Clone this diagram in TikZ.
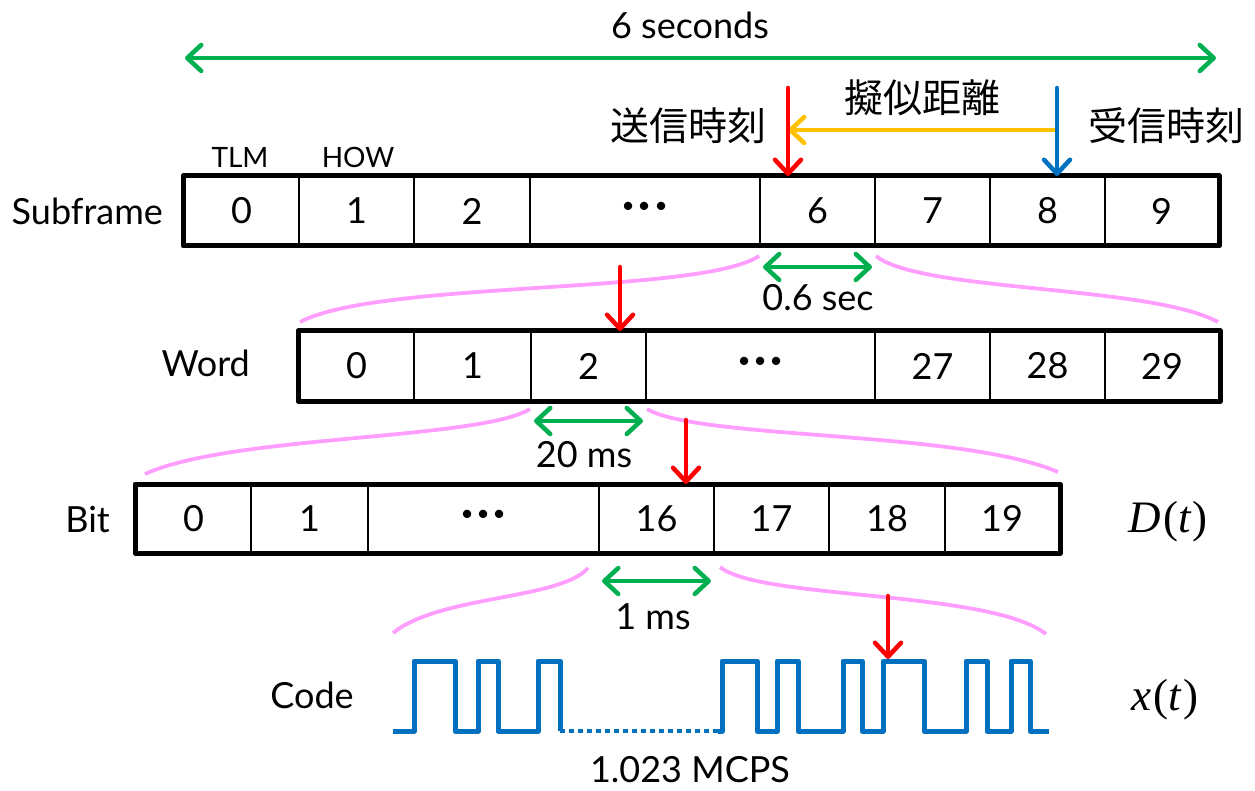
\documentclass[tikz,border=0pt]{standalone}
\usepackage{fontspec}
\setmainfont{Lato}
\newfontfamily\jp{Noto Sans CJK JP}
\newfontfamily\serifm{Liberation Serif}
\usetikzlibrary{arrows.meta}
\definecolor{ggreen}{HTML}{00B050}
\definecolor{rred}{HTML}{FF0000}
\definecolor{bblue}{HTML}{0070C0}
\definecolor{oorange}{HTML}{FFC000}
\definecolor{ppink}{HTML}{FF9EFF}
\newcommand{\mydots}{{\fontsize{44}{48}\selectfont\textbf{·\hspace{4pt}·\hspace{4pt}·}}}
\newcommand{\fn}[1]{{\serifm\itshape #1}\hspace{2pt}{\serifm(}{\serifm\itshape t}\hspace{2pt}{\serifm)}}
\begin{document}
\begin{tikzpicture}[x=1pt,y=-1pt,
  txt/.style={font=\fontsize{36}{40}\selectfont, inner sep=0pt},
  small/.style={font=\fontsize{28}{32}\selectfont, inner sep=0pt},
  jtxt/.style={font=\jp\fontsize{39}{44}\selectfont, inner sep=0pt},
  mth/.style={font=\fontsize{45}{50}\selectfont, inner sep=0pt},
  cell/.style={draw, line width=2pt, minimum height=68pt, inner sep=0pt, anchor=west, font=\fontsize{36}{40}\selectfont},
  frame/.style={line width=5pt, line join=round},
  barb/.style={line width=4.5pt, line cap=round},
  hd/.tip={Straight Barb[length=14pt,width=26pt,line cap=round,line join=round]},
  garrow/.style={barb, draw=ggreen, {hd}-{hd}},
  rarrow/.style={barb, draw=rred, -{hd}},
  bluearrow/.style={barb, draw=bblue, -{hd}},
  oarrow/.style={barb, draw=oorange, -{hd}},
  brace/.style={draw=ppink, line width=3.8pt},
  wave/.style={draw=bblue, line width=5pt, line join=round}
]
\useasboundingbox (0,0) rectangle (1255,791);

% top span
\coordinate (tl) at (185,58);
\coordinate (tr) at (1216,58);
\draw[garrow] (tl) -- (tr);
\node[txt] (six) at (690,25) {6 seconds};

% Subframe row
\node[cell, minimum width=115pt] (s0) at (183,211) {0};
\node[cell, minimum width=115pt] (s1) at (298,211) {1};
\node[cell, minimum width=116pt] (s2) at (413,211) {2};
\node[cell, minimum width=230pt] (sd) at (529,211) {\mydots};
\node[cell, minimum width=115pt] (s6) at (759,211) {6};
\node[cell, minimum width=115pt] (s7) at (874,211) {7};
\node[cell, minimum width=115pt] (s8) at (989,211) {8};
\node[cell, minimum width=113pt] (s9) at (1104,211) {9};
\draw[frame] (s0.north west) rectangle (s9.south east);
\node[txt, anchor=east] (lsub) at (163,211) {Subframe};
\node[small] (tlm) at (240,157) {TLM};
\node[small] (how) at (358,157) {HOW};

% transmit / receive
\coordinate (r1) at (788,88);
\coordinate (bl1) at (1057,88);
\coordinate (o1) at (1057,130);
\draw[oarrow] (o1) -- (o1 -| r1);
\draw[rarrow] (r1) -- (r1 |- s6.north);
\draw[bluearrow] (bl1) -- (bl1 |- s8.north);
\node[jtxt] (send) at (688,126) {送信時刻};
\node[jtxt] (recv) at (1166,126) {受信時刻};
\node[jtxt] (pseudo) at (922,98) {擬似距離};

% Subframe -> Word
\draw[brace] ([yshift=-10pt]s6.south west) .. controls (700,295) and (380,280) .. (300,322);
\draw[brace] ([yshift=-10pt]s6.south east) .. controls (920,292) and (1150,285) .. (1218,322);
\draw[garrow] ([xshift=4pt,yshift=-21pt]s6.south west) -- ([xshift=-4pt,yshift=-21pt]s6.south east);
\node[txt] (l06) at (818,298) {0.6 sec};

% Word row
\node[cell, minimum width=115pt] (w0) at (298,366) {0};
\node[cell, minimum width=117pt] (w1) at (413,366) {1};
\node[cell, minimum width=115pt] (w2) at (530,366) {2};
\node[cell, minimum width=229pt] (wd) at (645,366) {\mydots};
\node[cell, minimum width=115pt] (w27) at (874,366) {27};
\node[cell, minimum width=115pt] (w28) at (989,366) {28};
\node[cell, minimum width=114pt] (w29) at (1104,366) {29};
\draw[frame] (w0.north west) rectangle (w29.south east);
\node[txt, anchor=east] (lword) at (250,363) {Word};
\coordinate (r2) at (620,267);
\draw[rarrow] (r2) -- (r2 |- w2.north);

% Word -> Bit
\draw[brace] ([yshift=-8pt]w2.south west) .. controls (480,440) and (230,435) .. (145,474);
\draw[brace] ([yshift=-8pt]w2.south east) .. controls (700,440) and (960,430) .. (1058,472);
\draw[garrow] ([xshift=4pt,yshift=-20pt]w2.south west) -- ([xshift=-4pt,yshift=-20pt]w2.south east);
\node[txt] (l20) at (584,455) {20 ms};
\coordinate (r3) at (686,420);

% Bit row
\node[cell, minimum width=115pt, minimum height=67pt] (b0) at (135,518.5) {0};
\node[cell, minimum width=117pt, minimum height=67pt] (b1) at (250,518.5) {1};
\node[cell, minimum width=231pt, minimum height=67pt] (bd) at (367,518.5) {\mydots};
\node[cell, minimum width=115pt, minimum height=67pt] (b16) at (598,518.5) {16};
\node[cell, minimum width=115pt, minimum height=67pt] (b17) at (713,518.5) {17};
\node[cell, minimum width=116pt, minimum height=67pt] (b18) at (828,518.5) {18};
\node[cell, minimum width=114pt, minimum height=67pt] (b19) at (944,518.5) {19};
\draw[frame] (b0.north west) rectangle (b19.south east);
\draw[rarrow] (r3) -- (r3 |- b16.north);
\node[txt, anchor=east] (lbit) at (110,520) {Bit};
\node[mth] (dt) at (1168,522) {\fn{D}};

% Bit -> Code
\draw[brace] ([xshift=-10pt,yshift=-15pt]b16.south west) .. controls (560,600) and (440,595) .. (393,633);
\draw[brace] ([xshift=5pt,yshift=-14pt]b16.south east) .. controls (760,600) and (990,590) .. (1046,634);
\draw[garrow] ([xshift=4pt,yshift=-28pt]b16.south west) -- ([xshift=-4pt,yshift=-28pt]b16.south east);
\node[txt] (l1) at (653,617) {1 ms};

% Code waveform
\node[txt] (lcode) at (312,695) {Code};
\node[mth] (xt) at (1165,700) {\fn{x}};
\coordinate (wa) at (393,731);
\coordinate (wb) at (560,731);
\coordinate (wc) at (718,731);
\coordinate (wd2) at (1049,731);
\draw[wave] (wa) -- (414,731) -- (414,661) -- (455,661) -- (455,731) -- (478,731) -- (478,661) -- (498,661) -- (498,731) -- (538,731) -- (538,661) -- (560,661) -- (wb);
\draw[draw=bblue, line width=4.5pt, dash pattern=on 5pt off 4pt] (wb) -- (wc);
\draw[wave] (wc) -- (722,731) -- (722,661) -- (757,661) -- (757,731) -- (777,731) -- (777,661) -- (798,661) -- (798,731) -- (843,731) -- (843,661) -- (862,661) -- (862,731) -- (883,731) -- (883,661) -- (924,661) -- (924,731) -- (966,731) -- (966,661) -- (987,661) -- (987,731) -- (1011,731) -- (1011,661) -- (1030,661) -- (1030,731) -- (wd2);
\coordinate (r4) at (888,596);
\coordinate (r4e) at (888,659);
\draw[rarrow] (r4) -- (r4e);
\node[txt] (mcps) at (690,770) {1.023 MCPS};
\end{tikzpicture}
\end{document}
